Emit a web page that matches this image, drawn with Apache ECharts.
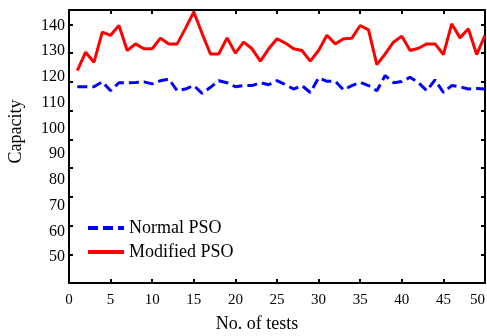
<!DOCTYPE html>
<html>
<head>
<meta charset="utf-8">
<script src="https://cdn.jsdelivr.net/npm/echarts@6/dist/echarts.min.js"></script>
<style>html,body{margin:0;padding:0;background:#fff}#c{width:487px;height:336px}</style>
</head>
<body>
<div id="c"></div>
<script>
var tests = [];
for (var i = 1; i <= 50; i++) tests.push(i);
var normalPSO = [118.3,118.3,118.3,120.0,116.9,119.7,119.7,119.8,120.0,119.3,
                 120.4,121.0,116.9,117.5,118.7,116.0,118.1,120.4,119.7,118.3,
                 118.7,118.7,119.7,119.0,120.4,119.0,117.5,118.7,116.3,121.4,
                 120.2,120.2,117.2,118.7,119.8,118.7,116.9,122.2,119.7,120.1,
                 121.6,119.7,116.9,120.7,116.3,118.7,118.3,117.5,117.7,117.5];
var modifiedPSO = [123.9,130.3,126.8,137.3,136.2,139.6,130.9,133.2,131.5,131.5,
                   135.2,133.2,133.2,138.6,144.3,136.8,129.7,129.7,135.3,130.0,
                   133.8,131.5,127.2,131.5,135.0,133.5,131.5,130.9,127.2,130.9,
                   136.2,133.2,135.0,135.2,139.6,138.1,126.0,129.7,133.8,135.9,
                   130.9,131.7,133.2,133.2,129.5,140.2,135.3,138.5,129.5,136.2];
var xTicks = [0,5,10,15,20,25,30,35,40,45,50];
var yTicks = [50,60,70,80,90,100,110,120,130,140];

var font = 'Liberation Serif';
var chart = echarts.init(document.getElementById('c'));
var boxLine = {show:true, lineStyle:{color:'#000', width:2}};
var inTick = {show:true, inside:true, length:4, lineStyle:{color:'#000', width:2}};
chart.setOption({
  animation:false,
  grid:{left:69, right:2, top:10, bottom:53, outerBoundsMode:'none', containLabel:false},
  legend:{
    orient:'vertical', left:81, top:214, itemWidth:36, itemHeight:14, itemGap:6,
    itemStyle:{opacity:0},
    lineStyle:{width:4},
    textStyle:{fontFamily:font, fontSize:18, color:'#000'},
    data:['Normal PSO','Modified PSO']
  },
  xAxis:[{
    type:'value', min:xTicks[0], max:xTicks[xTicks.length-1], interval:5,
    axisLine:boxLine, axisTick:inTick, splitLine:{show:false},
    axisLabel:{margin:10, fontFamily:font, fontSize:15, color:'#000', alignMaxLabel:'right'},
    name:'No. of tests', nameLocation:'middle', nameGap:32,
    nameTextStyle:{fontFamily:font, fontSize:18, color:'#000', padding:[0,40,0,0]}
  },{
    type:'value', position:'top', min:0, max:50, interval:5,
    axisLine:boxLine, axisTick:inTick, axisLabel:{show:false}, splitLine:{show:false}
  }],
  yAxis:[{
    type:'value', min:50, max:145, interval:10,
    axisLine:boxLine, axisTick:inTick, axisLabel:{show:false}, splitLine:{show:false}
  },{
    type:'value', position:'left', offset:0, min:40, max:146, interval:10,
    axisLine:{show:false}, axisTick:{show:false}, splitLine:{show:false},
    axisLabel:{margin:4, fontFamily:font, fontSize:16, color:'#000',
      formatter:function(v){return yTicks.indexOf(v) >= 0 ? String(v) : '';}},
    name:'Capacity', nameLocation:'middle', nameGap:44, nameRotate:90,
    nameTextStyle:{fontFamily:font, fontSize:18, color:'#000', padding:[0,0,0,30]}
  },{
    type:'value', position:'right', min:50, max:145, interval:10,
    axisLine:boxLine, axisTick:inTick, axisLabel:{show:false}, splitLine:{show:false}
  }],
  series:[{
    name:'Normal PSO', type:'line', xAxisIndex:0, yAxisIndex:0,
    data:tests.map(function(t,i){return [t, normalPSO[i]];}),
    symbol:'none', color:'#0000ff',
    lineStyle:{color:'#0000ff', width:3, type:[10,5]}
  },{
    name:'Modified PSO', type:'line', xAxisIndex:0, yAxisIndex:0,
    data:tests.map(function(t,i){return [t, modifiedPSO[i]];}),
    symbol:'none', color:'#ff0000',
    lineStyle:{color:'#ff0000', width:3}
  }]
});
</script>
</body>
</html>
